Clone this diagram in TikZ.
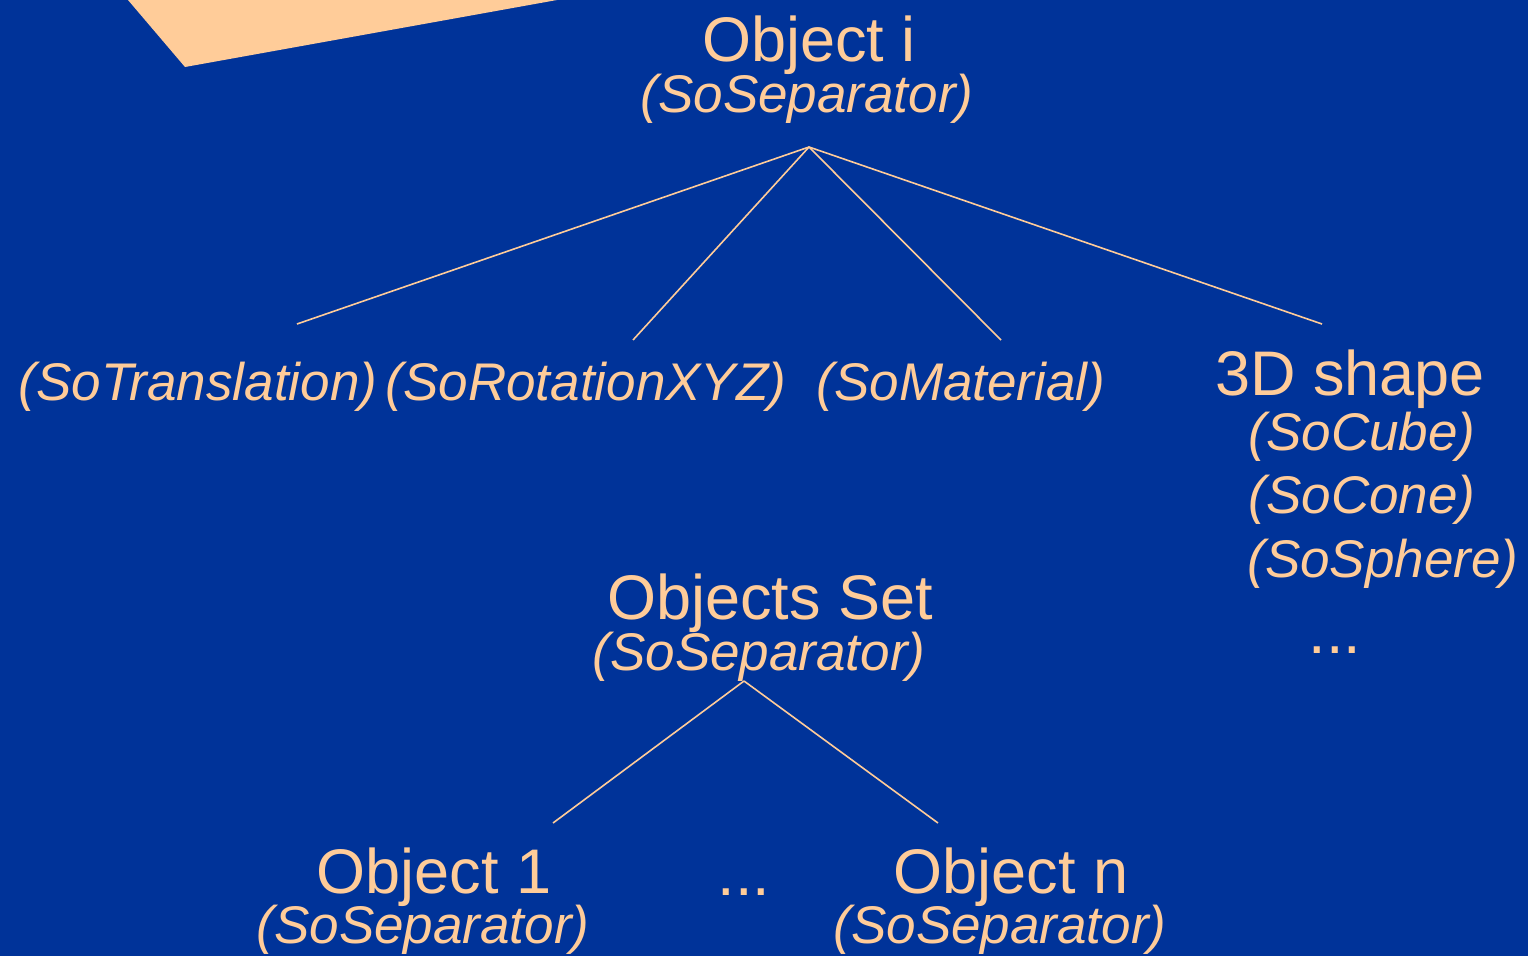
\documentclass[tikz,border=0pt]{standalone}
\usepackage{fontspec}
\setmainfont{Liberation Sans}
\definecolor{bgblue}{HTML}{003399}
\definecolor{peach}{HTML}{FFCC99}
\tikzset{
  big/.style={text=peach, inner sep=0pt, anchor=base, font=\fontsize{63}{63}\selectfont},
  cls/.style={text=peach, inner sep=0pt, anchor=base, font=\fontsize{53}{53}\selectfont\itshape},
  dots/.style={text=peach, inner sep=0pt, anchor=base, font=\fontsize{63}{63}\selectfont},
  edge/.style={draw=peach, line width=1.6pt}
}
\begin{document}
\begin{tikzpicture}[x=1pt,y=-1pt]
\useasboundingbox (0,0) rectangle (1528,956);
\fill[bgblue] (0,0) rectangle (1528,956);
\fill[peach] (128,0) -- (185,67) -- (557,0) -- cycle;
% nodes
\node[big] (objI) at (809,61) {Object i};
\node[cls] (objIsep) at (807,112) {(SoSeparator)};
\node[cls] (trans) at (198,400) {(SoTranslation)};
\node[cls] (rot) at (586,400) {(SoRotationXYZ)};
\node[cls] (mat) at (961,400) {(SoMaterial)};
\node[big] (shape) at (1350,395) {3D shape};
\node[cls] (cube) at (1362,450) {(SoCube)};
\node[cls] (cone) at (1362,513) {(SoCone)};
\node[cls] (sphere) at (1383,577) {(SoSphere)};
\node[dots] (shdots) at (1335,653) {...};
\node[big] (set) at (770,619) {Objects Set};
\node[cls] (setsep) at (759,670) {(SoSeparator)};
\node[big] (obj1) at (434,893) {Object 1};
\node[cls] (obj1sep) at (423,943) {(SoSeparator)};
\node[dots] (objdots) at (744,895) {...};
\node[big] (objn) at (1011,893) {Object n};
\node[cls] (objnsep) at (1000,943) {(SoSeparator)};
% connector ends
\coordinate (rootpt) at (809,147);
\coordinate (transpt) at (297,324);
\coordinate (rotpt) at (633,340);
\coordinate (matpt) at (1001,340);
\coordinate (shapept) at (1322,324);
\coordinate (setpt) at (744,681);
\coordinate (obj1pt) at (553,823);
\coordinate (objnpt) at (938,823);
\draw[edge] (rootpt) -- (transpt);
\draw[edge] (rootpt) -- (rotpt);
\draw[edge] (rootpt) -- (matpt);
\draw[edge] (rootpt) -- (shapept);
\draw[edge] (setpt) -- (obj1pt);
\draw[edge] (setpt) -- (objnpt);
\end{tikzpicture}
\end{document}
